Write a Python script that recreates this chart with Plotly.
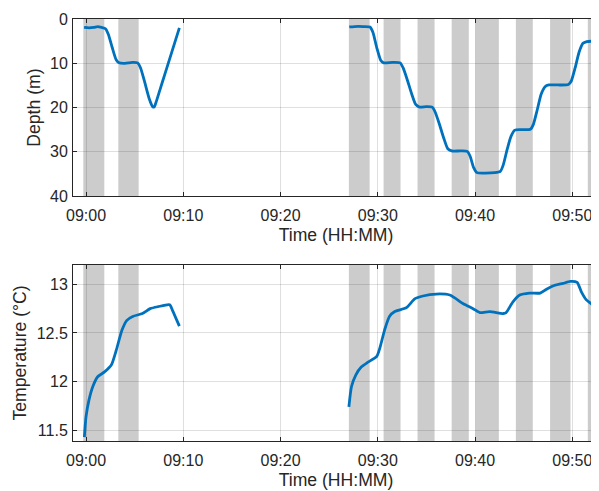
import datetime as dt
import plotly.graph_objects as go

BASE = dt.datetime(2024, 1, 1, 9, 0, 0)

# ---- data (minutes after 09:00) ----
depth_t1 = [-0.2, 0.3, 0.8, 1.2, 1.6, 2.0, 2.3, 2.7, 3.1, 3.4, 4.0, 4.8, 5.3, 5.6, 6.0, 6.5, 6.85, 7.0, 7.2, 7.6, 8.1, 8.6, 9.1, 9.6]
depth_v1 = [1.9, 2.0, 1.9, 1.7, 1.9, 2.2, 3.5, 6.5, 9.2, 9.9, 10.0, 9.8, 9.9, 11.0, 14.0, 18.0, 19.8, 19.9, 18.8, 16.0, 12.5, 9.0, 5.5, 2.0]

depth_t2 = [27.07, 27.6, 28.5, 29.2, 29.5, 29.9, 30.3, 30.6, 31.5, 32.3, 32.6, 33.0, 33.5, 33.9, 34.3, 35.0, 35.6, 35.9,
            36.3, 36.8, 37.2, 37.6, 38.5, 39.2, 39.5, 39.85, 40.2, 41.0, 42.0, 42.6, 42.9, 43.3, 43.7, 44.1, 44.8,
            45.7, 46.0, 46.4, 46.8, 47.2, 47.6, 48.5, 49.6, 49.9, 50.3, 50.7, 51.1, 51.5, 52.2, 52.8]
depth_v2 = [1.8, 1.7, 1.7, 1.8, 3.0, 6.5, 9.3, 9.9, 9.8, 9.9, 11.0, 13.5, 17.0, 19.3, 19.9, 19.8, 19.9, 21.0,
            23.5, 27.0, 29.3, 29.8, 29.8, 29.9, 31.0, 33.5, 34.7, 34.8, 34.7, 34.4, 33.0, 29.5, 26.5, 25.1, 25.0,
            24.9, 23.8, 20.5, 17.0, 15.3, 14.9, 14.9, 14.8, 14.0, 11.0, 7.5, 5.5, 5.1, 5.0, 5.0]

temp_t1 = [-0.17, 0.0, 0.3, 0.7, 1.2, 1.9, 2.6, 3.1, 3.7, 4.2, 4.8, 5.8, 6.6, 7.4, 8.6, 8.9, 9.6]
temp_v1 = [11.43, 11.64, 11.81, 11.95, 12.05, 12.10, 12.17, 12.32, 12.53, 12.63, 12.67, 12.70, 12.75, 12.77, 12.79, 12.73, 12.57]

temp_t2 = [27.03, 27.3, 27.75, 28.3, 29.0, 29.9, 30.2, 30.7, 31.2, 31.75, 32.95, 33.8, 34.65, 36.0, 37.4, 38.8,
           39.8, 40.5, 41.5, 42.9, 43.2, 43.9, 44.6, 45.6, 46.7, 47.35, 48.2, 49.05, 49.8, 50.5, 50.95, 51.45, 52.1, 52.7]
temp_v2 = [11.74, 11.95, 12.07, 12.15, 12.20, 12.26, 12.34, 12.53, 12.67, 12.72, 12.76, 12.85, 12.88, 12.90, 12.89, 12.80,
           12.75, 12.71, 12.72, 12.70, 12.71, 12.82, 12.89, 12.91, 12.91, 12.95, 12.99, 13.01, 13.03, 13.02, 12.92, 12.84, 12.79, 12.74]

band_start = [-0.28, 3.32, 27.03, 30.6, 34.09, 37.6, 40.05, 44.2, 47.72, 51.6]
band_end = [1.88, 5.41, 29.16, 32.34, 35.84, 39.36, 42.45, 45.94, 49.82, 54.0]

x_range_min = [-1.34, 52.75]


def T(m):
    return BASE + dt.timedelta(minutes=m)


def seg(t1, v1, t2, v2):
    xs = [T(m) for m in t1] + [None] + [T(m) for m in t2]
    ys = list(v1) + [None] + list(v2)
    return xs, ys


BLUE = "#0072BD"
AX = "#262626"
GRID = "rgba(38,38,38,0.15)"
FONT = "Liberation Sans, Arial, sans-serif"
TICK_SIZE = 16
TITLE_SIZE = 17.6

fig = go.Figure()
dx, dy = seg(depth_t1, depth_v1, depth_t2, depth_v2)
fig.add_trace(go.Scatter(x=dx, y=dy, mode="lines", line=dict(color=BLUE, width=2.8, shape="spline", smoothing=0.6),
                         connectgaps=False, xaxis="x", yaxis="y", showlegend=False))
tx, ty = seg(temp_t1, temp_v1, temp_t2, temp_v2)
fig.add_trace(go.Scatter(x=tx, y=ty, mode="lines", line=dict(color=BLUE, width=2.8, shape="spline", smoothing=0.6),
                         connectgaps=False, xaxis="x2", yaxis="y2", showlegend=False))

for s, e in zip(band_start, band_end):
    for xr, yr in (("x", "y domain"), ("x2", "y2 domain")):
        fig.add_shape(type="rect", xref=xr, yref=yr, x0=T(s), x1=T(e), y0=0, y1=1,
                      fillcolor="#cccccc", line=dict(width=0), layer="below")

xr = [T(x_range_min[0]), T(x_range_min[1])]
common_x = dict(type="date", range=xr, tickformat="%H:%M", tick0=BASE, dtick=600000, automargin=False,
                showgrid=True, gridcolor=GRID, gridwidth=1, showline=True, linecolor=AX, linewidth=1,
                mirror="ticks", ticks="inside", ticklen=4, tickcolor=AX, zeroline=False,
                tickfont=dict(size=TICK_SIZE, color=AX, family=FONT),
                title=dict(text="Time (HH:MM)", font=dict(size=TITLE_SIZE, color=AX, family=FONT), standoff=5),
                ticklabelstandoff=5)
common_y = dict(showgrid=True, gridcolor=GRID, gridwidth=1, showline=True, linecolor=AX, linewidth=1,
                mirror=False, ticks="inside", ticklen=4, tickcolor=AX, zeroline=False, automargin=False,
                tickfont=dict(size=TICK_SIZE, color=AX, family=FONT), ticklabelstandoff=1)

# the page body adds an 8px offset; the figure is sized to fill the rest of the window
fig.update_layout(
    template="none",
    width=591, height=483,
    margin=dict(l=65, r=0, t=11, b=50, pad=0),
    paper_bgcolor="white", plot_bgcolor="white",
    font=dict(family=FONT, color=AX),
    xaxis=dict(common_x, domain=[0, 1], anchor="y"),
    yaxis=dict(common_y, domain=[0.5803, 1], anchor="x", range=[40, 0],
               tickvals=[0, 10, 20, 30, 40],
               title=dict(text="Depth (m)", font=dict(size=TITLE_SIZE, color=AX, family=FONT), standoff=4.5)),
    xaxis2=dict(common_x, domain=[0, 1], anchor="y2"),
    yaxis2=dict(common_y, domain=[0, 0.4174], anchor="x2", range=[11.39, 13.2],
                tickvals=[11.5, 12, 12.5, 13], ticktext=["11.5", "12", "12.5", "13"],
                title=dict(text="Temperature (°C)", font=dict(size=TITLE_SIZE, color=AX, family=FONT), standoff=4.5)),
)

fig.write_html("out.html")
